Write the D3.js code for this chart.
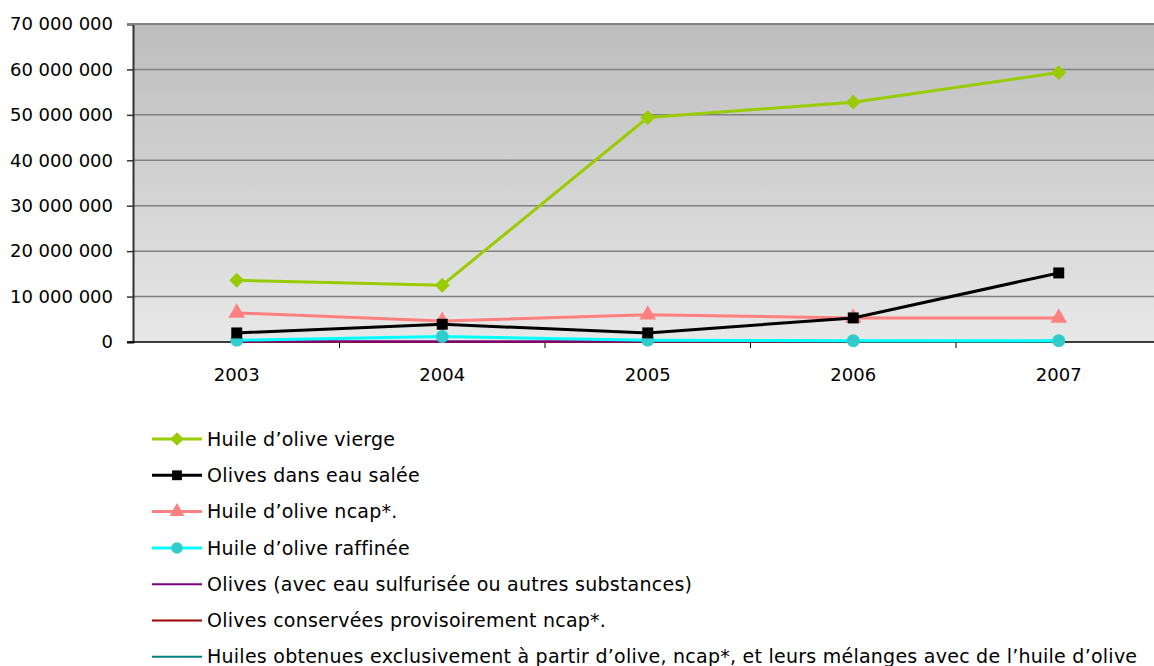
<html>
<head>
<meta charset="utf-8">
<style>
  body { margin: 0; background: white; }
  text { font-family: "DejaVu Sans", Verdana, sans-serif; fill: #000; }
</style>
<script src="https://cdn.jsdelivr.net/npm/d3@7"></script>
</head>
<body>
<div id="chart"></div>
<script>
var years = ['2003', '2004', '2005', '2006', '2007'];
var yTicks = [0, 10e6, 20e6, 30e6, 40e6, 50e6, 60e6, 70e6];

var viergeVals = [13.6e6, 12.5e6, 49.4e6, 52.8e6, 59.3e6];
var saleeVals = [2.0e6, 3.9e6, 2.0e6, 5.3e6, 15.2e6];
var ncapVals = [6.4e6, 4.6e6, 6.0e6, 5.3e6, 5.3e6];
var raffineeVals = [0.4e6, 1.2e6, 0.4e6, 0.3e6, 0.3e6];
var sulfuVals = [0.15e6, 0.1e6, 0.15e6, 0.2e6, 0.25e6];
var conserveVals = [0.05e6, 0.05e6, 0.05e6, 0.1e6, 0.15e6];
var huilesVals = [0.05e6, 0.05e6, 0.05e6, 0.05e6, 0.05e6];

var series = [
  { name: 'Huile d\u2019olive vierge', values: viergeVals, color: '#99cc00', marker: 'diamond', mcolor: '#99cc00', w: 3 },
  { name: 'Olives dans eau salée', values: saleeVals, color: '#000000', marker: 'square', mcolor: '#000000', w: 3 },
  { name: 'Huile d\u2019olive ncap*.', values: ncapVals, color: '#ff8080', marker: 'triangle', mcolor: '#ff8080', w: 3 },
  { name: 'Huile d\u2019olive raffinée', values: raffineeVals, color: '#00ffff', marker: 'circle', mcolor: '#33cccc', w: 3 },
  { name: 'Olives (avec eau sulfurisée ou autres substances)', values: sulfuVals, color: '#800080', marker: null, w: 2 },
  { name: 'Olives conservées provisoirement ncap*.', values: conserveVals, color: '#990000', marker: null, w: 2 },
  { name: 'Huiles obtenues exclusivement à partir d\u2019olive, ncap*, et leurs mélanges avec de l\u2019huile d\u2019olive', values: huilesVals, color: '#008080', marker: null, w: 2 }
];

var W = 1154, H = 666;
var plotLeft = 133, plotTop = 24, plotBottom = 342;

var svg = d3.select('#chart').append('svg')
    .attr('width', W)
    .attr('height', H);

var grad = svg.append('defs').append('linearGradient')
    .attr('id', 'bg')
    .attr('x1', 0).attr('y1', 0).attr('x2', 0).attr('y2', 1);
grad.append('stop').attr('offset', '0%').attr('stop-color', '#bdbdbd');
grad.append('stop').attr('offset', '100%').attr('stop-color', '#e8e8e8');

var x = d3.scaleBand().domain(years).range([134, 1161.5]);
var y = d3.scaleLinear().domain([0, 70e6]).range([plotBottom, plotTop]);

svg.append('rect')
    .attr('x', plotLeft).attr('y', plotTop)
    .attr('width', W - plotLeft).attr('height', plotBottom - plotTop)
    .attr('fill', 'url(#bg)');

// gridlines
svg.selectAll('.grid')
    .data(yTicks.filter(function(d) { return d > 0; }))
  .enter().append('line')
    .attr('x1', plotLeft).attr('x2', W)
    .attr('y1', function(d) { return y(d); })
    .attr('y2', function(d) { return y(d); })
    .attr('stroke', '#808080')
    .attr('stroke-width', 1.5);

var fmt = function(d) { return d3.format(',')(d).replace(/,/g, ' '); };

var yAxis = svg.append('g')
    .attr('transform', 'translate(' + plotLeft + ',0)')
    .call(d3.axisLeft(y).tickValues(yTicks).tickFormat(fmt).tickSize(6).tickPadding(14));
yAxis.select('.domain').attr('stroke', '#333').attr('stroke-width', 2);
yAxis.selectAll('.tick line').attr('stroke', '#333').attr('stroke-width', 1.5);
yAxis.selectAll('.tick text').style('font-size', '18px').attr('fill', '#000');

var xAxis = svg.append('g')
    .attr('transform', 'translate(0,' + plotBottom + ')')
    .call(d3.axisBottom(x).tickSize(0).tickPadding(26));
xAxis.select('.domain').remove();
xAxis.selectAll('.tick text').style('font-size', '18px').attr('fill', '#000');

svg.append('line')
    .attr('x1', plotLeft - 6).attr('x2', W)
    .attr('y1', plotBottom).attr('y2', plotBottom)
    .attr('stroke', '#000').attr('stroke-width', 1.5);

// category boundary ticks
svg.selectAll('.xtick')
    .data(years.slice(1))
  .enter().append('line')
    .attr('x1', function(d) { return x(d); })
    .attr('x2', function(d) { return x(d); })
    .attr('y1', plotBottom).attr('y2', plotBottom + 6)
    .attr('stroke', '#000').attr('stroke-width', 1);

var cx = function(d, i) { return x(years[i]) + x.bandwidth() / 2; };

var line = d3.line()
    .x(function(d, i) { return cx(d, i); })
    .y(function(d) { return y(d); });

var symbolOf = {
  diamond: d3.symbolSquare,
  square: d3.symbolSquare,
  triangle: d3.symbolTriangle,
  circle: d3.symbolCircle
};
var sizeOf = { diamond: 110, square: 120, triangle: 120, circle: 130 };
var rotOf = { diamond: 45, square: 0, triangle: 0, circle: 0 };

// thin series first, then the marked ones on top
var order = series.slice().reverse();
order.forEach(function(s) {
  svg.append('path')
      .datum(s.values)
      .attr('d', line)
      .attr('fill', 'none')
      .attr('stroke', s.color)
      .attr('stroke-width', s.w);
  if (s.marker) {
    svg.selectAll(null)
        .data(s.values)
      .enter().append('path')
        .attr('transform', function(d, i) {
          return 'translate(' + cx(d, i) + ',' + y(d) + ') rotate(' + rotOf[s.marker] + ')';
        })
        .attr('d', d3.symbol().type(symbolOf[s.marker]).size(sizeOf[s.marker]))
        .attr('fill', s.mcolor);
  }
});

// top border
svg.append('line')
    .attr('x1', plotLeft - 6).attr('x2', W)
    .attr('y1', plotTop).attr('y2', plotTop)
    .attr('stroke', '#808080').attr('stroke-width', 2);

// legend
var legend = svg.append('g');
var rows = legend.selectAll('g')
    .data(series)
  .enter().append('g')
    .attr('transform', function(d, i) { return 'translate(152,' + (439 + i * 36.3) + ')'; });
rows.append('line')
    .attr('x1', 0).attr('x2', 50)
    .attr('stroke', function(d) { return d.color; })
    .attr('stroke-width', function(d) { return d.w; });
rows.filter(function(d) { return d.marker; })
  .append('path')
    .attr('transform', function(d) { return 'translate(25,0) rotate(' + rotOf[d.marker] + ')'; })
    .attr('d', function(d) { return d3.symbol().type(symbolOf[d.marker]).size(sizeOf[d.marker] * 0.8)(); })
    .attr('fill', function(d) { return d.mcolor; });
rows.append('text')
    .attr('x', 55)
    .attr('dy', '0.35em')
    .style('font-size', '19px')
    .style('letter-spacing', '0.25px')
    .text(function(d) { return d.name; });
</script>
</body>
</html>
